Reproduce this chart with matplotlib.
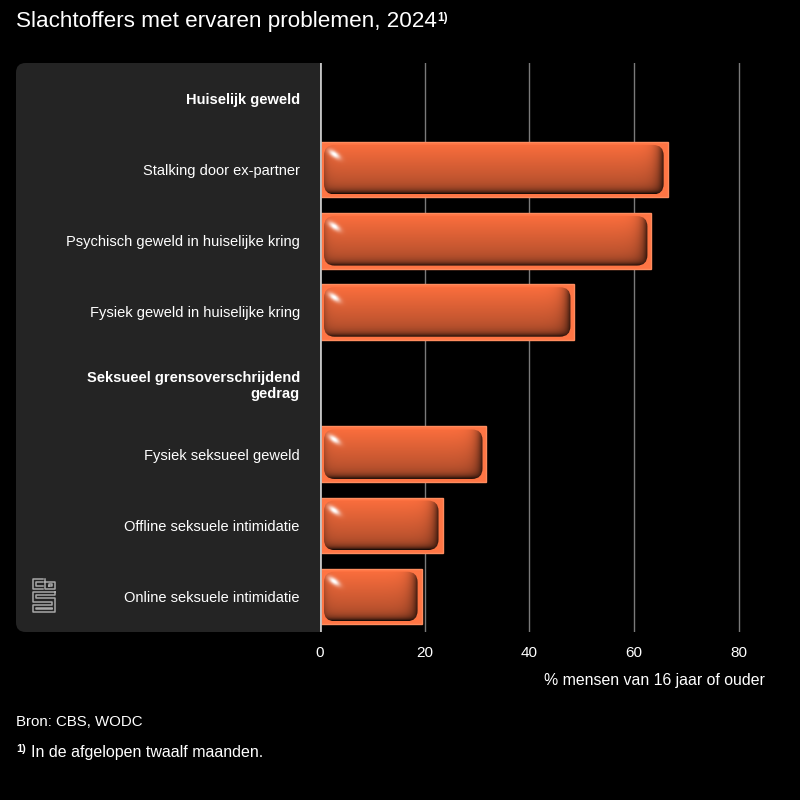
import numpy as np
import matplotlib
matplotlib.use("Agg")
import matplotlib.pyplot as plt
from matplotlib.patches import FancyBboxPatch

plt.rcParams['font.family'] = ['Liberation Sans', 'DejaVu Sans']

# data
labels = ["Huiselijk geweld",
          "Stalking door ex-partner",
          "Psychisch geweld in huiselijke kring",
          "Fysiek geweld in huiselijke kring",
          "Seksueel grensoverschrijdend\ngedrag",
          "Fysiek seksueel geweld",
          "Offline seksuele intimidatie",
          "Online seksuele intimidatie"]
is_header = [True, False, False, False, True, False, False, False]
values = [np.nan, 66.4, 63.3, 48.6, np.nan, 31.8, 23.4, 19.4]
xticks = [0, 20, 40, 60, 80]

title = "Slachtoffers met ervaren problemen, 2024"
xlabel = "% mensen van 16 jaar of ouder"
source = "Bron: CBS, WODC"
note = "In de afgelopen twaalf maanden."

W, H = 800, 800
fig = plt.figure(figsize=(8, 8), dpi=100, facecolor='black')
ax_l, ax_r, ax_t, ax_b = 320, 765, 63, 632
ax = fig.add_axes([ax_l / W, 1 - ax_b / H, (ax_r - ax_l) / W, (ax_b - ax_t) / H])
ax.set_facecolor('black')

xmax = 85
ax.set_xlim(0, xmax)
ax.set_ylim(len(labels) - 0.5, -0.5)

# grey label panel behind the category labels
panel = FancyBboxPatch((16 / W, 1 - ax_b / H), (ax_l + 20 - 16) / W, (ax_b - ax_t) / H,
                       boxstyle="round,pad=0,rounding_size=0.012",
                       transform=fig.transFigure, facecolor='#242424',
                       edgecolor='none', zorder=-5)
fig.patches.append(panel)

# px per data unit
sx = (ax_r - ax_l) / xmax
sy = (ax_b - ax_t) / len(labels)

for g in xticks[1:]:
    ax.axvline(g, color='#7a7a7a', lw=1, zorder=1)

bar_h = 0.78
ypos = np.arange(len(labels))
ax.barh(ypos, values, height=bar_h, color='#ff7544', edgecolor='#ff8c5e',
        lw=1, zorder=2)

base = np.array([0.98, 0.43, 0.24])
ang = np.deg2rad(35)
for y, v in zip(ypos, values):
    if np.isnan(v):
        continue
    x0, x1 = 4.0 / sx, v - 4.0 / sx
    inset = 3.0 / sy
    yt = y - bar_h / 2 + inset
    hh = bar_h - 2 * inset
    box = FancyBboxPatch((x0, yt), x1 - x0, hh,
                         boxstyle="round,pad=0,rounding_size=2.0",
                         mutation_aspect=sx / sy,
                         facecolor='none', edgecolor='none', zorder=3)
    ax.add_patch(box)
    nx, ny = 400, 80
    xs = np.linspace(x0, x1, nx)
    vv = np.linspace(0, 1, ny)
    px = (xs - x0) * sx
    pr = (x1 - xs) * sx
    py = vv * hh * sy
    pb = (1 - vv) * hh * sy
    PX, PY = np.meshgrid(px, py)
    PR, PB = np.meshgrid(pr, pb)
    shade = 1 - 0.32 * PY / (hh * sy)
    shade *= 1 - 0.88 * np.exp(-PB / 3.2)
    shade *= 1 - 0.78 * np.exp(-PR / 5.5)
    shade *= 1 - 0.22 * np.exp(-PX / 3.5)
    rgb = base[None, None, :] * shade[:, :, None]
    du, dw = PX - 10, PY - 10
    u = du * np.cos(ang) + dw * np.sin(ang)
    w = -du * np.sin(ang) + dw * np.cos(ang)
    hl = np.exp(-(u / 6.5) ** 2 - (w / 3.0) ** 2)
    hl = np.clip(hl * 1.05, 0, 1)
    rgb = rgb * (1 - hl[:, :, None]) + hl[:, :, None]
    im = ax.imshow(np.clip(rgb, 0, 1), extent=(x0, x1, yt + hh, yt),
                   origin='upper', aspect='auto', zorder=3, interpolation='bilinear')
    im.set_clip_path(box)

ax.set_xlim(0, xmax)
ax.set_ylim(len(labels) - 0.5, -0.5)
ax.axvline(0, color='#c4c4c4', lw=2, zorder=4)

for s in ax.spines.values():
    s.set_visible(False)

ax.set_xticks(xticks)
ax.set_xticklabels([str(t) for t in xticks])
ax.set_yticks(ypos)
ax.set_yticklabels(labels)
ax.tick_params(axis='both', length=0, colors='white', labelsize=10.5)
ax.tick_params(axis='x', pad=10, labelsize=11)
ax.tick_params(axis='y', pad=14.5)
for lab, hdr in zip(ax.get_yticklabels(), is_header):
    if hdr:
        lab.set_fontweight('bold')

fig.text(ax_r / W, 1 - 680 / H, xlabel, color='white', fontsize=11.4,
         ha='right', va='center')

t = fig.text(16 / W, 1 - 22 / H, title, color='white', fontsize=16.2,
             ha='left', va='center')
fig.canvas.draw()
ax.annotate("1)", xy=(1, 1), xycoords=t, xytext=(0, 0),
            textcoords='offset points', color='white', fontsize=8.5,
            fontweight='bold', ha='left', va='top', annotation_clip=False)

fig.text(16 / W, 1 - 722 / H, source, color='white', fontsize=10.8,
         ha='left', va='center')
fig.text(16 / W, 1 - 749 / H, "1)", color='white', fontsize=8,
         fontweight='bold', ha='left', va='center')
fig.text(31 / W, 1 - 753 / H, note, color='white', fontsize=11.5,
         ha='left', va='center')

# CBS logo (simple line drawing)
lg = fig.add_axes([32 / W, 1 - 613 / H, 24 / W, 35 / H])
lg.set_xlim(0, 10)
lg.set_ylim(0, 14)
lg.axis('off')
lc = '#a8a8a8'
lw = 1.1
lg.plot([4.6, 0.3, 0.3, 4.6], [13.7, 13.7, 9.6, 9.6], color=lc, lw=lw)
lg.plot([4.6, 1.6, 1.6, 4.6], [12.4, 12.4, 10.9, 10.9], color=lc, lw=lw)
lg.plot([5.6, 5.6, 9.7, 9.7, 5.6], [13.7, 9.6, 9.6, 12.6, 12.6], color=lc, lw=lw)
lg.plot([6.9, 8.4, 8.4, 6.9, 6.9], [10.9, 10.9, 11.5, 11.5, 10.9], color=lc, lw=lw)
lg.plot([9.7, 0.3, 0.3, 8.4, 8.4, 0.3, 0.3, 9.7, 9.7, 1.6, 1.6, 9.7, 9.7],
        [8.4, 8.4, 4.6, 4.6, 3.3, 3.3, 0.3, 0.3, 5.9, 5.9, 7.1, 7.1, 8.4],
        color=lc, lw=lw)
lg.plot([8.4, 1.6, 1.6, 8.4], [1.6, 1.6, 2.0, 2.0], color=lc, lw=lw)

fig.savefig("out.png", dpi=100, facecolor='black')
